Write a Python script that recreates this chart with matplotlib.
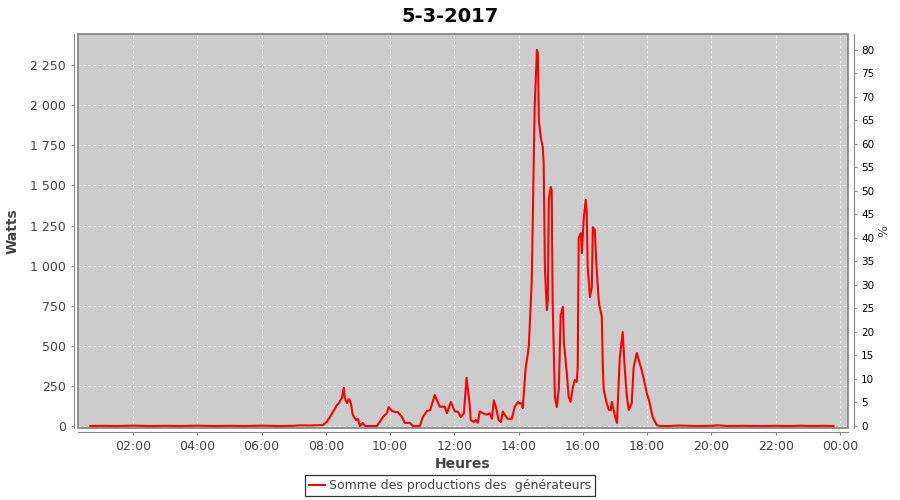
import matplotlib
matplotlib.use("Agg")
import matplotlib.pyplot as plt
from matplotlib.patches import Rectangle
from matplotlib.ticker import FuncFormatter

# hours since midnight, watts
heures = [0.67, 1.0, 1.5, 2.0, 2.5, 3.0, 3.5, 4.0, 4.5, 5.0, 5.5, 6.0, 6.5, 7.0,
          7.2, 7.5, 7.8, 7.91, 8.03, 8.13, 8.22, 8.35, 8.41, 8.50, 8.56, 8.59,
          8.66, 8.72, 8.78, 8.84, 8.94, 9.00, 9.06, 9.15, 9.22, 9.59, 9.68,
          9.78, 9.90, 9.96, 10.06, 10.15, 10.24, 10.37, 10.46, 10.62, 10.71,
          10.83, 10.93, 11.02, 11.15, 11.25, 11.39, 11.55, 11.70, 11.77, 11.89,
          12.02, 12.11, 12.20, 12.30, 12.38, 12.48, 12.51, 12.61, 12.67, 12.73,
          12.79, 12.89, 13.01, 13.10, 13.17, 13.23, 13.29, 13.38, 13.45, 13.51,
          13.60, 13.66, 13.79, 13.88, 13.98, 14.04, 14.10, 14.13, 14.22, 14.29,
          14.32, 14.41, 14.47, 14.50, 14.57, 14.60, 14.63, 14.69, 14.75, 14.78,
          14.82, 14.88, 14.91, 14.94, 15.00, 15.03, 15.06, 15.13, 15.19, 15.25,
          15.31, 15.38, 15.41, 15.50, 15.56, 15.62, 15.69, 15.75, 15.81, 15.84,
          15.87, 15.94, 15.97, 16.03, 16.09, 16.12, 16.15, 16.22, 16.28, 16.31,
          16.37, 16.43, 16.50, 16.59, 16.62, 16.65, 16.74, 16.81, 16.87, 16.90,
          16.99, 17.06, 17.15, 17.24, 17.30, 17.37, 17.43, 17.52, 17.58, 17.68,
          17.74, 17.83, 17.89, 17.99, 18.08, 18.17, 18.30, 18.39, 18.7, 19.0,
          19.5, 20.0, 20.2, 20.5, 21.0, 21.5, 22.0, 22.5, 22.8, 23.0, 23.5, 23.8]
watts = [0, 1, 0, 2, 0, 1, 0, 2, 0, 1, 0, 2, 0, 1,
         4, 3, 5, 6, 25, 56, 87, 131, 143, 175, 237, 175,
         143, 168, 143, 69, 37, 44, 0, 19, 0, 0, 25,
         56, 81, 118, 94, 87, 87, 56, 19, 19, 0,
         0, 0, 56, 94, 100, 193, 120, 120, 80, 150,
         90, 90, 55, 80, 300, 130, 37, 25, 37, 20,
         90, 80, 70, 80, 45, 160, 120, 37, 25, 90,
         60, 45, 45, 120, 150, 140, 143, 112, 360, 455,
         505, 910, 1640, 1990, 2345, 2325, 1907, 1800, 1740, 1640,
         973, 723, 785, 1410, 1490, 1470, 767, 180, 118, 225,
         692, 742, 524, 330, 180, 150, 243, 287, 275, 368,
         1172, 1203, 1078, 1303, 1410, 1328, 991, 804, 867, 1240,
         1222, 973, 767, 680, 368, 225, 143, 100, 100, 150,
         69, 19, 430, 586, 368, 180, 100, 143, 368, 455,
         411, 349, 299, 205, 143, 56, 6, 0, 0, 3,
         0, 1, 4, 0, 1, 0, 1, 0, 2, 0, 1, 0]

xticks = [2, 4, 6, 8, 10, 12, 14, 16, 18, 20, 22, 24]
xlabels = ["02:00", "04:00", "06:00", "08:00", "10:00", "12:00",
           "14:00", "16:00", "18:00", "20:00", "22:00", "00:00"]
yticks = list(range(0, 2251, 250))
pticks = list(range(0, 81, 5))

titre = "5-3-2017"
serie = "Somme des productions des  générateurs"

gris = "#444444"
fig = plt.figure(figsize=(9, 5), dpi=100)
ax = fig.add_axes([78 / 900, 1 - 428 / 500, (848 - 78) / 900, (428 - 34) / 500])
ax.set_facecolor("#cccccc")

ax.plot(heures, watts, color="#ff0000", lw=1.5, label=serie, zorder=3)

ax.set_xlim(0.29, 24.25)
ax.set_ylim(-12.5, 2444)
ax.set_xticks(xticks)
ax.set_xticklabels(xlabels)
ax.set_yticks(yticks)
ax.yaxis.set_major_formatter(FuncFormatter(lambda v, p: f"{int(v):,}".replace(",", " ")))
ax.grid(True, color="white", lw=0.6, ls=(0, (3, 3)), alpha=0.9)
ax.set_axisbelow(True)

for s in ["top", "right"]:
    ax.spines[s].set_visible(False)
for s in ["left", "bottom"]:
    ax.spines[s].set_position(("outward", 3))
    ax.spines[s].set_color("#888888")
ax.add_patch(Rectangle((0, 0), 1, 1, transform=ax.transAxes, fill=False,
                       ec="#808080", lw=1.2, zorder=4, clip_on=False))
ax.tick_params(colors="#888888", labelcolor=gris, labelsize=9, length=2, width=0.8)

ax.set_xlabel("Heures", fontsize=10, fontweight="bold", color=gris, labelpad=3)
ax.set_ylabel("Watts", fontsize=10, fontweight="bold", color=gris, labelpad=8)

ax2 = ax.twinx()
ax2.set_ylim(-0.43, 83.4)
ax2.set_yticks(pticks)
for s in ["top", "left", "bottom"]:
    ax2.spines[s].set_visible(False)
ax2.spines["right"].set_position(("outward", 4))
ax2.spines["right"].set_color("#888888")
ax2.tick_params(colors="#888888", labelcolor="black", labelsize=7.5, length=2, width=0.8)
ax2.set_ylabel("%", fontsize=9, color=gris, labelpad=2)

fig.suptitle(titre, y=0.985, fontsize=14, fontweight="bold",
             family=["Liberation Sans Narrow", "DejaVu Sans"])

leg = fig.legend(loc="lower center", bbox_to_anchor=(0.5, -0.004), fontsize=9,
                 frameon=True, fancybox=False, edgecolor="black",
                 handlelength=1.3, handletextpad=0.3, borderpad=0.3)
leg.get_frame().set_linewidth(0.9)
for t in leg.get_texts():
    t.set_color(gris)

fig.savefig("out.png", dpi=100)
